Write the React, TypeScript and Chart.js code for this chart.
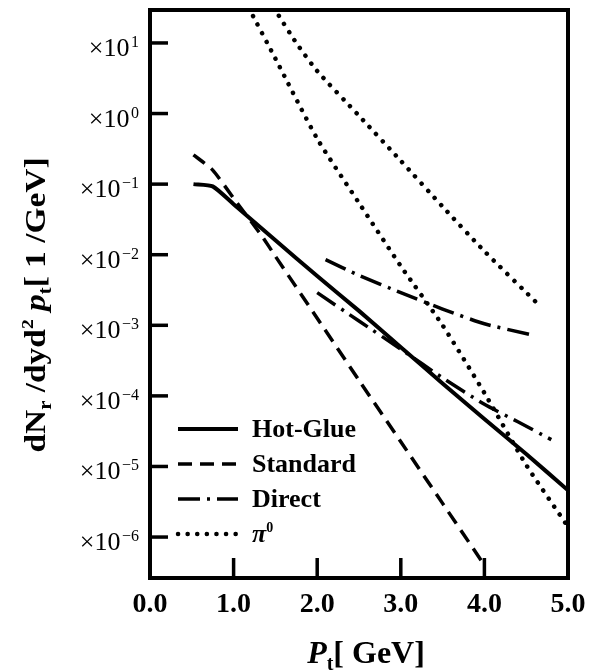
import React, { useEffect, useRef } from "react";
import { Chart, registerables } from "chart.js";

Chart.register(...registerables);

// ---- axis ticks ----
const xTickValues = [0, 1, 2, 3, 4, 5];
const xTickLabels = ["0.0", "1.0", "2.0", "3.0", "4.0", "5.0"];
const yTickExponents = [-6, -5, -4, -3, -2, -1, 0, 1];
const yTickBase = "×10";
const yTickSup = ["−6", "−5", "−4", "−3", "−2", "−1", "0", "1"];
const xMin = 0;
const xMax = 5;
const yMin = 2.63e-7;
const yMax = 29.3;

// ---- series ----
const seriesNames = ["Hot-Glue", "Standard", "Direct", "π"];
const seriesNameSup = ["", "", "", "0"];

const hotGlueX = [0.52, 0.75, 1.0, 1.5, 2.0, 2.5, 3.0, 3.5, 4.0, 4.5, 5.0];
const hotGlueY = [1.0e-1, 9.3e-2, 5.2e-2, 1.6e-2, 5.0e-3, 1.6e-3, 4.9e-4, 1.5e-4, 4.7e-5, 1.5e-5, 4.6e-6];

const standardX = [0.52, 0.75, 1.0, 1.33, 1.5, 2.0, 2.5, 3.0, 3.5, 4.0];
const standardY = [2.6e-1, 1.58e-1, 6.3e-2, 1.9e-2, 9.5e-3, 1.26e-3, 1.66e-4, 2.24e-5, 3.0e-6, 4.0e-7];

const directUpperX = [2.1, 2.5, 3.0, 3.5, 4.0, 4.55];
const directUpperY = [8.5e-3, 5.1e-3, 2.9e-3, 1.7e-3, 1.05e-3, 7.4e-4];

const directLowerX = [2.0, 2.5, 3.0, 3.5, 4.0, 4.4, 4.8];
const directLowerY = [2.9e-3, 1.15e-3, 4.6e-4, 1.8e-4, 7.6e-5, 4.3e-5, 2.4e-5];

const pionLeftX = [1.18, 1.5, 2.0, 2.5, 3.0, 3.5, 4.0, 4.5, 5.0];
const pionLeftY = [31.6, 6.0, 4.4e-1, 5.4e-2, 6.9e-3, 1.0e-3, 1.1e-4, 1.05e-5, 1.4e-6];

const pionRightX = [1.48, 1.75, 2.0, 2.5, 3.0, 3.5, 4.0, 4.65];
const pionRightY = [31.6, 10.0, 4.0, 9.3e-1, 2.14e-1, 4.8e-2, 1.12e-2, 1.95e-3];

const pts = (xs: number[], ys: number[]) => xs.map((x, i) => ({ x, y: ys[i] }));

const SERIF = "'Liberation Serif', 'DejaVu Serif', 'Times New Roman', serif";

type Seg = { text: string; font: string; dy: number };

function measureRich(ctx: CanvasRenderingContext2D, segs: Seg[]) {
  let total = 0;
  const widths = segs.map((s) => {
    ctx.font = s.font;
    const w = ctx.measureText(s.text).width;
    total += w;
    return w;
  });
  return { total, widths };
}

function drawRich(ctx: CanvasRenderingContext2D, segs: Seg[], x0: number, baseY: number, align: "left" | "center" | "right") {
  const { total, widths } = measureRich(ctx, segs);
  let x = align === "left" ? x0 : align === "center" ? x0 - total / 2 : x0 - total;
  ctx.textAlign = "left";
  ctx.textBaseline = "alphabetic";
  segs.forEach((s, i) => {
    ctx.font = s.font;
    ctx.fillText(s.text, x, baseY + s.dy);
    x += widths[i];
  });
}

const decorPlugin = {
  id: "decor",
  afterDraw(chart: any) {
    const ctx: CanvasRenderingContext2D = chart.ctx;
    const a = chart.chartArea;
    const xs = chart.scales.x;
    const ys = chart.scales.y;
    ctx.save();
    ctx.strokeStyle = "#000";
    ctx.fillStyle = "#000";
    ctx.setLineDash([]);
    // frame
    ctx.lineWidth = 4;
    ctx.strokeRect(a.left, a.top, a.right - a.left, a.bottom - a.top);
    // inward tick marks + y tick labels
    ctx.lineWidth = 3.5;
    ys.ticks.forEach((t: any) => {
      const y = ys.getPixelForValue(t.value);
      ctx.beginPath();
      ctx.moveTo(a.left, y);
      ctx.lineTo(a.left + 18, y);
      ctx.stroke();
      const idx = yTickExponents.indexOf(Math.round(Math.log10(t.value)));
      if (idx >= 0) {
        drawRich(
          ctx,
          [
            { text: yTickBase, font: `26px ${SERIF}`, dy: 0 },
            { text: " ", font: `6px ${SERIF}`, dy: 0 },
            { text: yTickSup[idx], font: `16px ${SERIF}`, dy: -9 },
          ],
          a.left - 11,
          y + 13,
          "right"
        );
      }
    });
    xs.ticks.forEach((t: any) => {
      const x = xs.getPixelForValue(t.value);
      if (x > a.left + 3 && x < a.right - 3) {
        ctx.beginPath();
        ctx.moveTo(x, a.bottom);
        ctx.lineTo(x, a.bottom - 20);
        ctx.stroke();
      }
    });

    // legend
    const legendSets = chart.data.datasets.filter((d: any) => d.inLegend);
    const lx0 = a.left + 28;
    const lx1 = a.left + 88;
    const tx = a.left + 102;
    let ly = a.top + 419;
    legendSets.forEach((d: any) => {
      ctx.save();
      ctx.lineWidth = d.borderWidth;
      ctx.lineCap = d.borderCapStyle || "butt";
      ctx.setLineDash(d.borderDash || []);
      ctx.beginPath();
      ctx.moveTo(lx0, ly);
      ctx.lineTo(lx1, ly);
      ctx.stroke();
      ctx.restore();
      const i = seriesNames.indexOf(d.label);
      const sup = seriesNameSup[i] || "";
      const segs: Seg[] = sup
        ? [
            { text: d.label, font: `italic bold 26px ${SERIF}`, dy: 0 },
            { text: sup, font: `bold 14px ${SERIF}`, dy: -10 },
          ]
        : [{ text: d.label, font: `bold 26px ${SERIF}`, dy: 0 }];
      drawRich(ctx, segs, tx, ly + 8, "left");
      ly += 35;
    });

    // x title
    drawRich(
      ctx,
      [
        { text: "P", font: `italic bold 32px ${SERIF}`, dy: 0 },
        { text: "t", font: `bold 20px ${SERIF}`, dy: 7 },
        { text: "[ GeV]", font: `bold 32px ${SERIF}`, dy: 0 },
      ],
      (a.left + a.right) / 2 + 7,
      663,
      "center"
    );

    // y title
    const ySegs: Seg[] = [
      { text: "dN", font: `bold 29px ${SERIF}`, dy: 0 },
      { text: "r", font: `bold 18px ${SERIF}`, dy: 6 },
      { text: " /dyd", font: `bold 29px ${SERIF}`, dy: 0 },
      { text: "2", font: `bold 17px ${SERIF}`, dy: -12 },
      { text: " p", font: `italic bold 29px ${SERIF}`, dy: 0 },
      { text: "t", font: `bold 18px ${SERIF}`, dy: 6 },
      { text: "[ 1 /GeV]", font: `bold 29px ${SERIF}`, dy: 0 },
    ];
    const { total } = measureRich(ctx, ySegs);
    const k = 295 / total;
    ctx.save();
    ctx.translate(35, 305);
    ctx.rotate(-Math.PI / 2);
    ctx.scale(k, 1);
    drawRich(ctx, ySegs, 0, 10, "center");
    ctx.restore();
    ctx.restore();
  },
};

export default function App() {
  const ref = useRef<HTMLCanvasElement | null>(null);

  useEffect(() => {
    if (!ref.current) return;
    const base = { borderColor: "#000", backgroundColor: "#000", pointRadius: 0, fill: false, tension: 0.2 };
    const chart = new Chart(ref.current, {
      type: "line",
      data: {
        datasets: [
          { ...base, label: seriesNames[0], inLegend: true, data: pts(hotGlueX, hotGlueY), borderWidth: 4, borderDash: [] },
          { ...base, label: seriesNames[1], inLegend: true, data: pts(standardX, standardY), borderWidth: 3.5, borderDash: [14, 8] },
          { ...base, label: seriesNames[2], inLegend: true, data: pts(directUpperX, directUpperY), borderWidth: 3.5, borderDash: [22, 7, 3, 7] },
          { ...base, label: seriesNames[2], inLegend: false, data: pts(directLowerX, directLowerY), borderWidth: 3.5, borderDash: [22, 7, 3, 7] },
          { ...base, label: seriesNames[3], inLegend: true, data: pts(pionLeftX, pionLeftY), borderWidth: 4.5, borderDash: [0.1, 9.5], borderCapStyle: "round" },
          { ...base, label: seriesNames[3], inLegend: false, data: pts(pionRightX, pionRightY), borderWidth: 4.5, borderDash: [0.1, 9.5], borderCapStyle: "round" },
        ] as any,
      },
      options: {
        animation: false,
        responsive: false,
        maintainAspectRatio: false,
        layout: { padding: { top: 10, right: 29, left: 0, bottom: 0 } },
        plugins: { legend: { display: false }, tooltip: { enabled: false } },
        scales: {
          x: {
            type: "linear",
            min: xMin,
            max: xMax,
            afterBuildTicks: (s: any) => {
              s.ticks = xTickValues.map((v) => ({ value: v }));
            },
            afterFit: (s: any) => {
              s.height = 93;
              s.paddingLeft = 0;
              s.paddingRight = 0;
            },
            ticks: {
              callback: (v: any) => xTickLabels[xTickValues.indexOf(Number(v))],
              font: { family: SERIF, size: 28, weight: "bold" },
              color: "#000",
              padding: 10,
              maxRotation: 0,
              autoSkip: false,
            },
            grid: { display: false, drawTicks: false },
            border: { display: false },
          },
          y: {
            type: "logarithmic",
            min: yMin,
            max: yMax,
            afterBuildTicks: (s: any) => {
              s.ticks = yTickExponents.map((e) => ({ value: Math.pow(10, e) }));
            },
            afterFit: (s: any) => {
              s.width = 150;
              s.paddingTop = 0;
              s.paddingBottom = 0;
            },
            ticks: {
              display: false,
              autoSkip: false,
            },
            grid: { display: false, drawTicks: false },
            border: { display: false },
          },
        },
      } as any,
      plugins: [decorPlugin],
    });
    return () => chart.destroy();
  }, []);

  return (
    <div style={{ position: "absolute", left: 0, top: 0, width: 597, height: 671, background: "#fff" }}>
      <canvas ref={ref} width={597} height={671} style={{ width: 597, height: 671, display: "block" }} />
    </div>
  );
}
